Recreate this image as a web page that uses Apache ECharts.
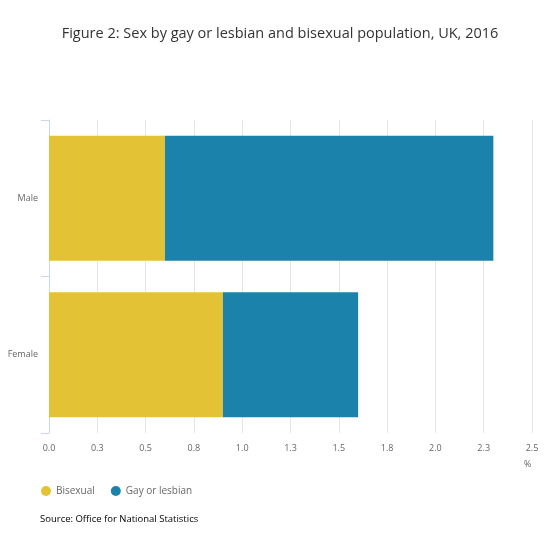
<!DOCTYPE html>
<html>
<head>
<meta charset="utf-8">
<script src="https://cdn.jsdelivr.net/npm/echarts@6/dist/echarts.min.js"></script>
<style>
  html, body { margin: 0; padding: 0; background: #fff; }
  #main { width: 560px; height: 554px; }
</style>
</head>
<body>
<div id="main"></div>
<script>
// data
var categories = ['Male', 'Female'];
var bisexual = [0.6, 0.9];
var gayOrLesbian = [1.7, 0.7];

var myChart = echarts.init(document.getElementById('main'));

var font = '"Open Sans", "Noto Sans", sans-serif';

var option = {
    textStyle: { fontFamily: font },
    title: {
        text: 'Figure 2: Sex by gay or lesbian and bisexual population, UK, 2016',
        left: 'center',
        top: 21,
        textStyle: { fontFamily: font, fontSize: 14.5, fontWeight: 'normal', color: '#333' }
    },
    legend: {
        data: ['Bisexual', 'Gay or lesbian'],
        left: 36,
        top: 481,
        icon: 'circle',
        itemWidth: 10,
        itemHeight: 10,
        itemGap: 16,
        textStyle: { fontFamily: font, fontSize: 10, color: '#666' }
    },
    graphic: [{
        type: 'text',
        left: 40,
        top: 514,
        style: { text: 'Source: Office for National Statistics', font: '9.5px ' + font, fill: '#000' }
    }],
    grid: { left: 49, right: 28, top: 120, bottom: 121, containLabel: false },
    xAxis: {
        type: 'value',
        min: 0,
        max: 2.5,
        interval: 0.25,
        name: '%',
        nameLocation: 'end',
        nameGap: 0,
        nameTextStyle: { fontSize: 9, color: '#666', padding: [27, 0, 0, -8], verticalAlign: 'top' },
        axisLine: { show: false },
        axisTick: { show: false },
        axisLabel: {
            fontSize: 9,
            color: '#666',
            margin: 11,
            formatter: function (v) { return v.toFixed(1); }
        },
        splitLine: { show: true, lineStyle: { color: '#e6e6e6', width: 1 } }
    },
    yAxis: {
        type: 'category',
        data: categories,
        inverse: true,
        axisLine: { show: true, lineStyle: { color: '#ccd6eb' } },
        axisTick: { show: true, length: 8, lineStyle: { color: '#ccd6eb' } },
        axisLabel: { fontSize: 9, color: '#666', margin: 11 }
    },
    series: [{
        name: 'Bisexual',
        type: 'bar',
        stack: 'total',
        barCategoryGap: '20%',
        itemStyle: { color: '#e3c236' },
        data: bisexual
    }, {
        name: 'Gay or lesbian',
        type: 'bar',
        stack: 'total',
        barCategoryGap: '20%',
        itemStyle: { color: '#1b83ab' },
        data: gayOrLesbian
    }]
};

myChart.setOption(option);
</script>
</body>
</html>
